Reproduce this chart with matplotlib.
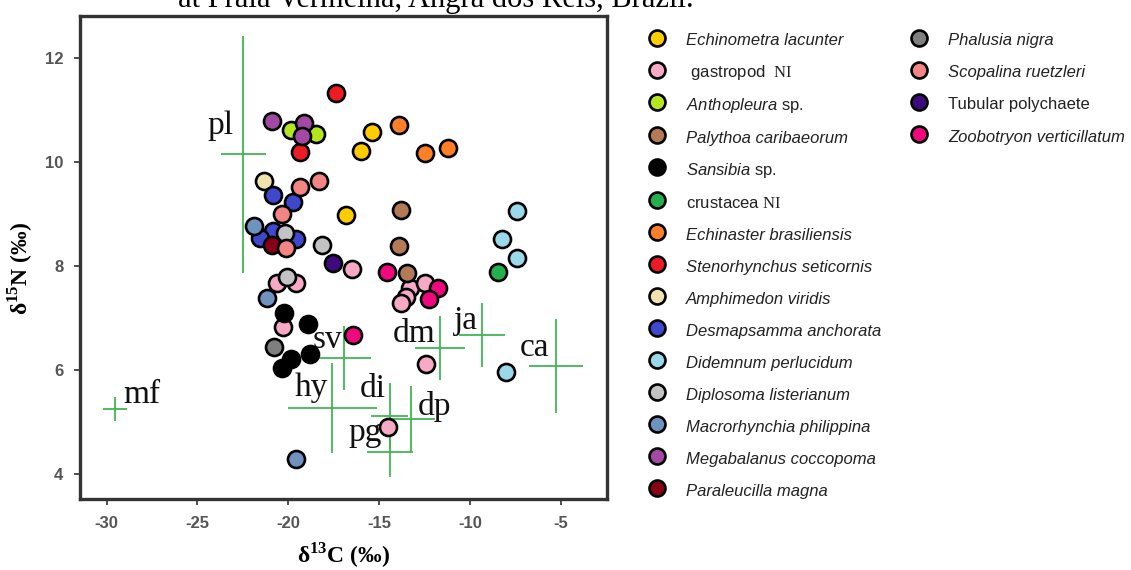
import matplotlib
matplotlib.use('Agg')
import matplotlib.pyplot as plt
from matplotlib.lines import Line2D

plt.rcParams['mathtext.fontset'] = 'custom'
plt.rcParams['mathtext.rm'] = 'Liberation Serif'
plt.rcParams['mathtext.it'] = 'Liberation Sans:italic'
plt.rcParams['mathtext.bf'] = 'Liberation Serif:bold'
plt.rcParams['mathtext.sf'] = 'Liberation Sans'

# ---------------- data ----------------
species = ['Echinometra lacunter', 'gastropod NI', 'Anthopleura sp.', 'Palythoa caribaeorum',
           'Sansibia sp.', 'crustacea NI', 'Echinaster brasiliensis', 'Stenorhynchus seticornis',
           'Amphimedon viridis', 'Desmapsamma anchorata', 'Didemnum perlucidum',
           'Diplosoma listerianum', 'Macrorhynchia philippina', 'Megabalanus coccopoma',
           'Paraleucilla magna', 'Phalusia nigra', 'Scopalina ruetzleri', 'Tubular polychaete',
           'Zoobotryon verticillatum']
legend_labels = ['Echinometra lacunter', r' gastropod  $\mathrm{NI}$', r'$\mathit{Anthopleura}$ sp.',
                 'Palythoa caribaeorum', r'$\mathit{Sansibia}$ sp.', r'crustacea $\mathrm{NI}$',
                 'Echinaster brasiliensis', 'Stenorhynchus seticornis', 'Amphimedon viridis',
                 'Desmapsamma anchorata', 'Didemnum perlucidum', 'Diplosoma listerianum',
                 'Macrorhynchia philippina', 'Megabalanus coccopoma', 'Paraleucilla magna',
                 'Phalusia nigra', 'Scopalina ruetzleri', 'Tubular polychaete',
                 'Zoobotryon verticillatum']
italic_label = [True, False, False, True, False, False, True, True, True, True, True, True,
                True, True, True, True, True, False, True]
colors = ['#FFCC00', '#F7A9C5', '#B5E61D', '#B27A55', '#000000', '#22B14C', '#FF7F27', '#ED1C24',
          '#EFE4B0', '#3F48CC', '#99D9EA', '#C3C3C3', '#7092BE', '#A349A4', '#880015',
          '#7F7F7F', '#F58485', '#3F0A80', '#F0087F']

d13c = [
    [-16.81, -15.38, -15.99],
    [-16.48, -20.60, -19.56, -20.27, -13.30, -12.47, -13.52, -13.79, -12.42, -14.51],
    [-19.84, -18.46],
    [-13.79, -13.90, -13.46],
    [-20.22, -18.90, -18.79, -19.84, -20.33],
    [-8.46],
    [-13.90, -12.47, -11.21],
    [-17.39, -19.34],
    [-21.32],
    [-20.82, -19.73, -20.82, -21.54, -19.56],
    [-7.42, -8.24, -7.42, -8.02],
    [-20.16, -18.13, -20.05],
    [-21.87, -21.15, -19.56],
    [-20.88, -19.12, -19.23],
    [-20.88],
    [-20.77],
    [-19.34, -18.30, -20.33, -20.11],
    [-17.53],
    [-16.43, -14.56, -11.76, -12.25],
]
d15n = [
    [8.98, 10.58, 10.21],
    [7.94, 7.67, 7.67, 6.83, 7.58, 7.67, 7.40, 7.29, 6.12, 4.90],
    [10.62, 10.54],
    [9.08, 8.38, 7.87],
    [7.10, 6.88, 6.31, 6.21, 6.04],
    [7.88],
    [10.71, 10.17, 10.27],
    [11.33, 10.19],
    [9.63],
    [9.37, 9.23, 8.67, 8.54, 8.52],
    [9.06, 8.52, 8.15, 5.96],
    [8.63, 8.40, 7.79],
    [8.77, 7.38, 4.29],
    [10.79, 10.75, 10.50],
    [8.40],
    [6.44],
    [9.52, 9.63, 9.00, 8.35],
    [8.06],
    [6.67, 7.88, 7.58, 7.37],
]

source_names = ['pl', 'mf', 'sv', 'hy', 'di', 'dp', 'pg', 'dm', 'ja', 'ca']
source_d13c = [-22.47, -29.56, -16.92, -17.58, -14.42, -13.26, -14.42, -11.65, -9.34, -5.27]
source_d15n = [10.15, 5.25, 6.23, 5.27, 5.12, 5.06, 4.42, 6.42, 6.67, 6.08]
source_sd13c = [1.24, 0.66, 1.48, 2.45, 1.02, 1.32, 1.27, 1.37, 1.26, 1.48]
source_sd15n = [2.28, 0.23, 0.61, 0.87, 0.63, 0.63, 0.48, 0.62, 0.62, 0.90]

x_ticks = [-30, -25, -20, -15, -10, -5]
y_ticks = [4, 6, 8, 10, 12]

# label offsets (pixels, y up) for source labels -- styling only
label_offsets = [(-23, 20), (27, 6), (-17, 10), (-21, 12), (-17, 19), (24, 4),
                 (-25, 11), (-26, 6), (-16, 6), (-21, 10)]

# ---------------- figure ----------------
W, H = 1131, 570
fig = plt.figure(figsize=(W / 100, H / 100), dpi=100)
ax = fig.add_axes([80 / W, 1 - 499 / H, 527 / W, 483 / H])

ax.set_xlim(-31.47, -2.45)
ax.set_ylim(3.52, 12.81)

# source crosses
cross_color = '#41B653'
ax.errorbar(source_d13c, source_d15n, xerr=source_sd13c, yerr=source_sd15n,
            fmt='none', ecolor=cross_color, elinewidth=1.3, capsize=0, zorder=1)
for name, x, y, (dx, dy) in zip(source_names, source_d13c, source_d15n, label_offsets):
    ax.annotate(name, (x, y), xytext=(dx * 0.72, dy * 0.72), textcoords='offset points',
                ha='center', va='baseline', fontsize=24, family='Liberation Serif',
                color='#111111', zorder=2)

# consumers
for sp, c, xs, ys in zip(species, colors, d13c, d15n):
    ax.scatter(xs, ys, s=150, c=c, edgecolors='black', linewidths=1.9, zorder=3)

ax.set_xticks(x_ticks)
ax.set_yticks(y_ticks)
ax.set_xticklabels([str(v) for v in x_ticks])
ax.set_yticklabels([str(v) for v in y_ticks])
for lab in ax.get_xticklabels() + ax.get_yticklabels():
    lab.set_fontfamily('Liberation Sans')
    lab.set_fontweight('bold')
    lab.set_fontsize(12)
    lab.set_color('#555555')
ax.tick_params(direction='out', length=4, width=1.2, color='#333333', pad=8)

for sp in ax.spines.values():
    sp.set_linewidth(2.4)
    sp.set_color('#333333')

ax.set_xlabel(r'δ$^{\mathbf{13}}$C (‰)', fontfamily='Liberation Serif', fontweight='bold',
              fontsize=17, labelpad=7)
ax.set_ylabel(r'δ$^{\mathbf{15}}$N (‰)', fontfamily='Liberation Serif', fontweight='bold',
              fontsize=17)
ax.yaxis.set_label_coords(-0.086, 0.478)

# partially visible caption text at top
fig.text(436 / W, 1 - 7 / H, 'at Praia Vermelha, Angra dos Reis, Brazil.', ha='center',
         va='baseline', fontsize=22, family='Liberation Serif', color='black')

# legend
handles = [Line2D([], [], marker='o', ls='', ms=11.5, mfc=c, mec='black', mew=1.9)
           for c in colors]
prop = {'family': 'Liberation Sans', 'size': 12, 'style': 'italic'}

def make_legend(idx, x0):
    leg = fig.legend([handles[i] for i in idx], [legend_labels[i] for i in idx],
                     loc='upper left', bbox_to_anchor=(x0 / W, 1 - 30 / H),
                     frameon=False, prop=prop, borderpad=0, borderaxespad=0,
                     handlelength=1.0, handleheight=1.45, handletextpad=1.25,
                     labelspacing=0.735)
    for t, i in zip(leg.get_texts(), idx):
        t.set_color('#222222')
        if not italic_label[i]:
            t.set_fontstyle('normal')
    return leg

make_legend(list(range(15)), 648.5)
make_legend(list(range(15, 19)), 910.5)

fig.savefig('out.png', dpi=100)
